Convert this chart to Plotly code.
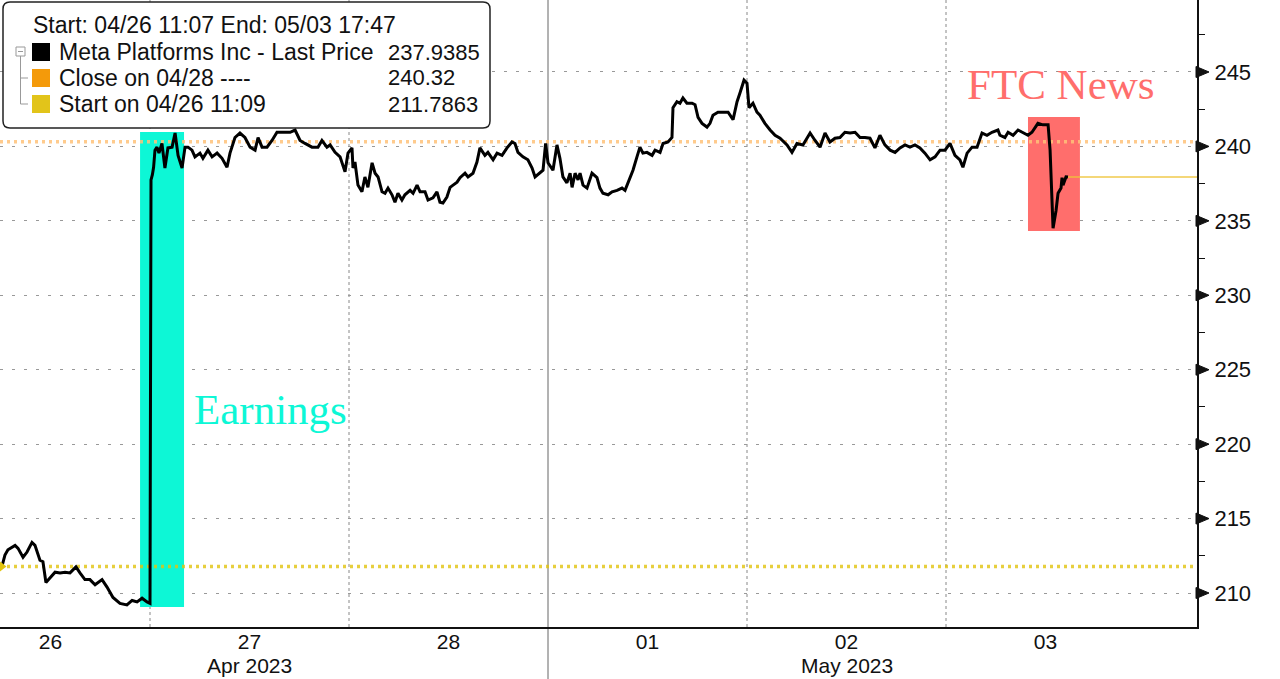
import plotly.graph_objects as go

# x = trading-session position: day index (0 = Apr 26, 1 = Apr 27, 2 = Apr 28,
# 3 = May 01, 4 = May 02, 5 = May 03) + fraction of that session
t = [0.256, 0.271, 0.286, 0.322, 0.337, 0.362, 0.382, 0.407, 0.422, 0.447,
     0.462, 0.477, 0.497, 0.523, 0.548, 0.573, 0.598, 0.628, 0.648, 0.673,
     0.698, 0.724, 0.759, 0.784, 0.814, 0.849, 0.884, 0.910, 0.935, 0.960,
     0.985, 1.000, 1.005, 1.012, 1.018, 1.025, 1.035, 1.045, 1.060, 1.075,
     1.090, 1.111, 1.126, 1.141, 1.161, 1.176, 1.191, 1.211, 1.226, 1.251,
     1.266, 1.291, 1.312, 1.337, 1.362, 1.387, 1.402, 1.427, 1.452, 1.477,
     1.503, 1.528, 1.543, 1.563, 1.588, 1.613, 1.638, 1.668, 1.704, 1.729,
     1.754, 1.779, 1.814, 1.844, 1.864, 1.889, 1.905, 1.930, 1.955, 1.980,
     1.995, 2.015, 2.020, 2.030, 2.045, 2.065, 2.080, 2.095, 2.116, 2.131,
     2.146, 2.166, 2.181, 2.196, 2.216, 2.231, 2.246, 2.266, 2.281, 2.307,
     2.322, 2.342, 2.357, 2.382, 2.397, 2.422, 2.442, 2.457, 2.472, 2.492,
     2.508, 2.523, 2.543, 2.558, 2.583, 2.598, 2.623, 2.643, 2.658, 2.683,
     2.698, 2.724, 2.744, 2.769, 2.794, 2.819, 2.834, 2.849, 2.874, 2.899,
     2.920, 2.935, 2.960, 2.975, 2.988, 3.000, 3.025, 3.045, 3.060, 3.075,
     3.095, 3.111, 3.121, 3.136, 3.151, 3.161, 3.176, 3.196, 3.221, 3.246,
     3.261, 3.276, 3.302, 3.322, 3.347, 3.372, 3.387, 3.402, 3.427, 3.447,
     3.462, 3.477, 3.497, 3.523, 3.538, 3.563, 3.578, 3.603, 3.623, 3.628,
     3.648, 3.663, 3.678, 3.698, 3.724, 3.739, 3.754, 3.774, 3.799, 3.814,
     3.829, 3.854, 3.874, 3.889, 3.905, 3.930, 3.950, 3.965, 3.985, 4.000,
     4.010, 4.030, 4.050, 4.065, 4.090, 4.116, 4.141, 4.166, 4.201, 4.226,
     4.251, 4.281, 4.317, 4.342, 4.367, 4.392, 4.417, 4.442, 4.467, 4.492,
     4.518, 4.543, 4.568, 4.593, 4.618, 4.643, 4.668, 4.693, 4.719, 4.744,
     4.769, 4.794, 4.819, 4.844, 4.869, 4.894, 4.920, 4.945, 4.970, 4.995,
     5.020, 5.045, 5.070, 5.085, 5.106, 5.131, 5.156, 5.181, 5.206, 5.231,
     5.261, 5.271, 5.296, 5.312, 5.337, 5.362, 5.387, 5.412, 5.432, 5.447,
     5.462, 5.487, 5.513, 5.523, 5.533, 5.538, 5.553, 5.563, 5.578, 5.583,
     5.588, 5.603, 5.613]

price = [211.79, 212.55, 212.90, 213.20, 213.00, 212.40, 212.75, 213.40, 213.20, 212.20,
         212.10, 210.70, 211.00, 211.40, 211.35, 211.40, 211.35, 211.75, 211.35, 210.90,
         210.90, 210.55, 210.90, 210.40, 209.70, 209.30, 209.20, 209.50, 209.40, 209.65,
         209.40, 209.30, 237.75, 238.10, 238.60, 239.75, 239.95, 239.55, 240.20, 238.55,
         239.90, 239.95, 240.90, 239.40, 238.55, 239.95, 239.95, 239.75, 239.30, 239.55,
         239.20, 239.75, 239.30, 239.55, 239.20, 238.60, 239.55, 240.60, 240.90, 240.60,
         239.95, 239.75, 240.60, 239.95, 239.95, 240.40, 240.95, 240.95, 240.95, 241.10,
         240.40, 240.20, 239.95, 239.95, 240.40, 239.95, 240.10, 239.60, 239.30, 238.30,
         239.55, 239.90, 238.55, 238.95, 237.40, 236.95, 237.95, 237.25, 238.90, 238.20,
         237.95, 236.95, 236.85, 237.20, 236.75, 236.25, 236.85, 236.40, 236.75, 237.05,
         236.85, 237.40, 236.95, 236.95, 236.40, 236.55, 236.95, 236.25, 236.20, 236.60,
         237.25, 237.40, 237.60, 237.90, 238.20, 237.95, 238.20, 238.95, 239.90, 239.40,
         239.60, 239.10, 239.55, 239.40, 239.90, 240.30, 240.20, 239.60, 239.30, 239.10,
         238.55, 237.95, 238.20, 238.40, 240.20, 238.90, 238.40, 240.10, 239.20, 237.95,
         237.55, 238.20, 237.25, 238.20, 237.75, 238.20, 237.40, 237.20, 238.20, 237.90,
         237.20, 236.85, 236.75, 236.95, 237.05, 237.20, 237.05, 237.55, 238.40, 239.30,
         239.95, 239.55, 239.60, 239.40, 239.75, 239.60, 240.20, 240.30, 240.60, 242.60,
         243.00, 242.90, 243.25, 242.90, 242.90, 242.80, 241.95, 241.55, 241.30, 241.55,
         242.10, 242.30, 242.30, 242.25, 242.30, 241.80, 243.00, 243.60, 244.45, 244.25,
         242.60, 242.90, 242.30, 242.10, 241.55, 241.10, 240.75, 240.55, 240.10, 239.60,
         240.20, 240.10, 240.90, 240.40, 239.95, 240.90, 240.30, 240.55, 240.60, 240.95,
         240.90, 240.95, 240.60, 240.60, 240.55, 239.90, 240.75, 240.10, 239.75, 239.60,
         239.90, 240.10, 239.95, 240.10, 239.90, 239.55, 239.10, 239.30, 239.75, 239.75,
         240.20, 239.40, 239.10, 238.60, 239.55, 239.95, 239.95, 240.90, 240.75, 240.95,
         241.10, 240.75, 240.60, 240.95, 240.75, 241.10, 240.90, 240.75, 240.95, 241.25,
         241.55, 241.45, 241.45, 239.75, 236.85, 234.50, 235.70, 236.85, 237.20, 237.90,
         237.40, 237.95, 237.9385]

day_labels = ["26", "27", "28", "01", "02", "03"]
month_labels = ["Apr 2023", "May 2023"]
month_center_day = [1, 4]          # day index under which each month label sits
month_break_day = 3                # May 01 session start
y_ticks = [210, 215, 220, 225, 230, 235, 240, 245]

last_price = 237.9385
close_0428 = 240.32
start_0426 = 211.7863

earn_box = dict(x0=0.950, x1=1.171, y0=209.06, y1=240.97)
ftc_box = dict(x0=5.412, x1=5.673, y0=234.32, y1=241.98)

legend_header = "Start: 04/26 11:07 End: 05/03 17:47"
legend_names = ["Meta Platforms Inc - Last Price", "Close on 04/28 ----", "Start on 04/26 11:09"]
legend_values = ["237.9385", "240.32", "211.7863"]

# ---------------- layout constants ----------------
X_RANGE = [0.2462, 6.2613]
Y_RANGE = [207.716, 249.836]
W, H = 1280, 679
ML, MR, MT, MB = 0, 83, 0, 52
PW, PH = W - ML - MR, H - MT - MB
Y_PER_PX = (Y_RANGE[1] - Y_RANGE[0]) / PH

CYAN = "#0DF7D6"
SALMON = "#FF6E6C"
ORANGE = "#FFC27A"
YELLOW = "#E2C40E"
LASTY = "#EFC43A"
FONT = "Liberation Sans, Arial, sans-serif"
SERIF = "Liberation Serif, Times New Roman, serif"


def px(x):
    return x / PW


def py(y):
    return 1 - y / PH


fig = go.Figure()

# reference lines
fig.add_trace(go.Scatter(x=X_RANGE, y=[close_0428, close_0428], mode="lines",
                         line=dict(color=ORANGE, width=3.5, dash="3px,4px"), opacity=0.85,
                         hoverinfo="skip"))
fig.add_trace(go.Scatter(x=X_RANGE, y=[start_0426, start_0426], mode="lines",
                         line=dict(color=YELLOW, width=3.5, dash="3px,4px"), opacity=0.8,
                         hoverinfo="skip"))
fig.add_trace(go.Scatter(x=[t[-1], X_RANGE[1]], y=[last_price, last_price], mode="lines",
                         line=dict(color=LASTY, width=1.5), opacity=0.9, hoverinfo="skip"))
# price line
fig.add_trace(go.Scatter(x=t, y=price, mode="lines",
                         line=dict(color="black", width=3), name="Meta Platforms Inc"))
# start marker at left edge
fig.add_trace(go.Scatter(x=[X_RANGE[0]], y=[start_0426], mode="markers",
                         marker=dict(symbol="triangle-right", size=13, color=YELLOW),
                         cliponaxis=False, hoverinfo="skip"))

shapes = []
# highlight boxes
shapes.append(dict(type="rect", xref="x", yref="y", layer="between", line=dict(width=0),
                   fillcolor=CYAN, **earn_box))
shapes.append(dict(type="rect", xref="x", yref="y", layer="between", line=dict(width=0),
                   fillcolor=SALMON, **ftc_box))
# day separators
for d in range(1, len(day_labels)):
    if d == month_break_day:
        shapes.append(dict(type="line", xref="x", yref="paper", x0=d, x1=d, y0=-MB / PH, y1=1,
                           line=dict(color="#666", width=1), layer="between"))
    else:
        shapes.append(dict(type="line", xref="x", yref="paper", x0=d, x1=d, y0=0, y1=1,
                           line=dict(color="#888", width=1, dash="3px,3px"), layer="between"))

# right-axis arrow ticks (triangles just outside the axis line)
tri_w, tri_h = 12 / PW, 5.5 * Y_PER_PX
for v in y_ticks:
    shapes.append(dict(type="path", xref="paper", yref="y", layer="above",
                       path=f"M {1 - 1 / PW},{v - tri_h} L {1 + tri_w},{v} L {1 - 1 / PW},{v + tri_h} Z",
                       fillcolor="#111", line=dict(color="#111", width=1)))

# legend box with rounded corners
bx0, bx1, by0, by1 = px(3), px(490), py(128), py(2)
rx, ry = 7 / PW, 7 / PH
path = (f"M {bx0 + rx},{by1} L {bx1 - rx},{by1} Q {bx1},{by1} {bx1},{by1 - ry} "
        f"L {bx1},{by0 + ry} Q {bx1},{by0} {bx1 - rx},{by0} L {bx0 + rx},{by0} "
        f"Q {bx0},{by0} {bx0},{by0 + ry} L {bx0},{by1 - ry} Q {bx0},{by1} {bx0 + rx},{by1} Z")
shapes.append(dict(type="path", xref="paper", yref="paper", path=path, fillcolor="white",
                   line=dict(color="#222", width=1.5), layer="above"))
# tree icon
shapes.append(dict(type="rect", xref="paper", yref="paper", x0=px(16), x1=px(25), y0=py(56), y1=py(47),
                   line=dict(color="#999", width=1), fillcolor="white", layer="above"))
shapes.append(dict(type="line", xref="paper", yref="paper", x0=px(18), x1=px(23), y0=py(51.5), y1=py(51.5),
                   line=dict(color="#999", width=1), layer="above"))
shapes.append(dict(type="line", xref="paper", yref="paper", x0=px(20.5), x1=px(20.5), y0=py(56), y1=py(104),
                   line=dict(color="#999", width=1), layer="above"))
for yy in (78, 104):
    shapes.append(dict(type="line", xref="paper", yref="paper", x0=px(20.5), x1=px(28), y0=py(yy), y1=py(yy),
                       line=dict(color="#999", width=1), layer="above"))
# colour squares
for yc, col in zip((52, 78, 104), ("black", "#F49A0A", "#E2C41A")):
    shapes.append(dict(type="rect", xref="paper", yref="paper", x0=px(32), x1=px(50),
                       y0=py(yc + 9), y1=py(yc - 9), line=dict(width=0), fillcolor=col, layer="above"))

annotations = []
annotations.append(dict(text=legend_header, x=px(31), y=py(25), xref="paper", yref="paper",
                        xanchor="left", yanchor="middle", showarrow=False,
                        font=dict(family=FONT, size=23, color="#111")))
for yc, name, val in zip((52, 78, 104), legend_names, legend_values):
    annotations.append(dict(text=name, x=px(57), y=py(yc), xref="paper", yref="paper",
                            xanchor="left", yanchor="middle", showarrow=False,
                            font=dict(family=FONT, size=23, color="#111")))
    annotations.append(dict(text=val, x=px(386), y=py(yc), xref="paper", yref="paper",
                            xanchor="left", yanchor="middle", showarrow=False,
                            font=dict(family=FONT, size=22, color="#111")))
# event labels
annotations.append(dict(text="Earnings", x=earn_box["x1"] + 0.04, y=222.3, xref="x", yref="y",
                        xanchor="left", yanchor="middle", showarrow=False,
                        font=dict(family=SERIF, size=43, color=CYAN)))
annotations.append(dict(text="FTC News", x=5.095, y=244.15, xref="x", yref="y",
                        xanchor="left", yanchor="middle", showarrow=False,
                        font=dict(family=SERIF, size=43, color=SALMON)))
# month labels
for lab, d in zip(month_labels, month_center_day):
    annotations.append(dict(text=lab, x=d + 0.5, y=-38 / PH, xref="x", yref="paper",
                            xanchor="center", yanchor="middle", showarrow=False,
                            font=dict(family=FONT, size=21, color="#111")))

fig.update_layout(
    width=W, height=H, margin=dict(l=ML, r=MR, t=MT, b=MB),
    plot_bgcolor="white", paper_bgcolor="white", showlegend=False,
    shapes=shapes, annotations=annotations,
    xaxis=dict(range=X_RANGE, showgrid=False, zeroline=False, showline=True,
               linecolor="#111", linewidth=2,
               tickvals=[i + 0.5 for i in range(len(day_labels))], ticktext=day_labels,
               ticks="", ticklabelstandoff=-5, tickfont=dict(family=FONT, size=21, color="#111")),
    yaxis=dict(range=Y_RANGE, side="right", showgrid=True, gridcolor="#999", gridwidth=1,
               griddash="3px,9px", tickvals=y_ticks, zeroline=False,
               ticks="outside", ticklen=6, tickcolor="#111", tickwidth=1,
               minor=dict(dtick=2.5, tick0=0, ticks="outside", ticklen=6, tickcolor="#111",
                          showgrid=False),
               showline=True, linecolor="#111", linewidth=2, ticklabelstandoff=5,
               tickfont=dict(family=FONT, size=22, color="#111")),
)

fig.write_html("out.html", config={"displayModeBar": False},
               post_script="document.body.style.margin='0';document.body.style.padding='0';")
